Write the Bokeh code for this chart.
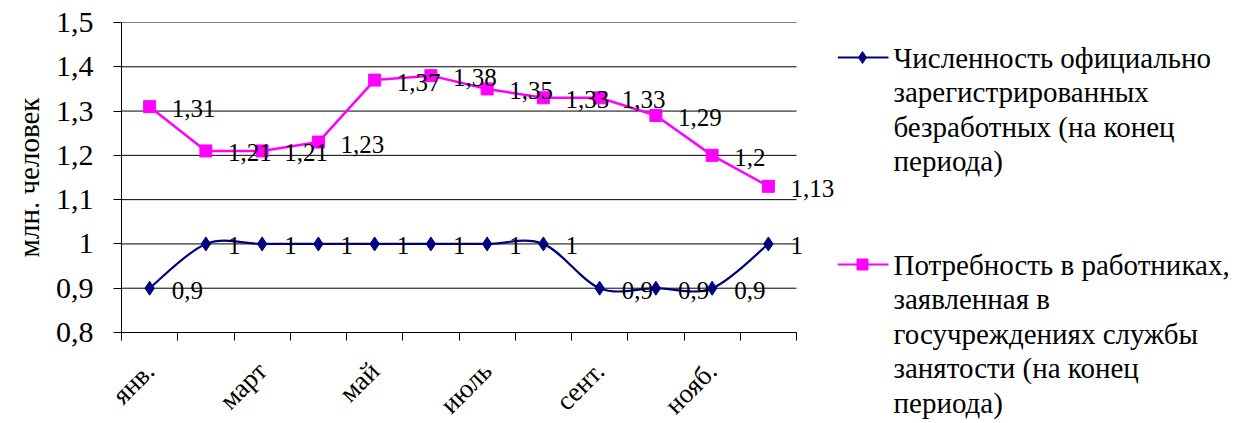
import math
from bokeh.plotting import figure
from bokeh.layouts import row
from bokeh.models import (ColumnDataSource, LabelSet, FixedTicker, CustomJSTickFormatter, Range1d)
from bokeh.core.properties import value
from bokeh.embed import file_html
from bokeh.resources import INLINE

months = ["янв.", "февр.", "март", "апр.", "май", "июнь",
          "июль", "авг.", "сент.", "окт.", "нояб.", "дек."]
unemployed = [0.9, 1, 1, 1, 1, 1, 1, 1, 0.9, 0.9, 0.9, 1]
demand = [1.31, 1.21, 1.21, 1.23, 1.37, 1.38, 1.35, 1.33, 1.33, 1.29, 1.2, 1.13]
y_ticks = [0.8, 0.9, 1.0, 1.1, 1.2, 1.3, 1.4, 1.5]
series_names = [
    ["Численность официально", "зарегистрированных", "безработных (на конец", "периода)"],
    ["Потребность в работниках,", "заявленная в", "госучреждениях службы", "занятости (на конец", "периода)"],
]
y_title = "млн. человек"

FONT = "'Liberation Serif'"
BLUE = "#000080"
PINK = "#FF00FF"

xs = list(range(1, len(months) + 1))

# page geometry (pixels)
FRAME_L, FRAME_R, FRAME_T, FRAME_B = 121, 796, 22, 332
MAIN_W = 837
H = 423
cat_px = (FRAME_R - FRAME_L) / len(months)
x_end = len(months) + 0.5 + (MAIN_W - FRAME_R) / cat_px


def fmt(v):
    return f"{v:g}".replace(".", ",")


p = figure(frame_width=MAIN_W - FRAME_L, frame_height=FRAME_B - FRAME_T,
           x_range=Range1d(0.5, x_end), y_range=Range1d(0.8, 1.5),
           output_backend="svg", toolbar_location=None,
           min_border_left=FRAME_L, min_border_right=0, min_border_top=FRAME_T,
           min_border_bottom=H - FRAME_B)
p.frame_align = False
p.outline_line_color = None
p.background_fill_color = "white"

# axes
p.xaxis.ticker = FixedTicker(ticks=xs[::2], minor_ticks=[x + 0.5 for x in range(0, 13)])
p.xaxis.formatter = CustomJSTickFormatter(args=dict(m=months), code="return m[Math.round(tick)-1];")
p.xaxis.bounds = (0.5, len(months) + 0.5)
p.xaxis.major_tick_out = 0
p.xaxis.major_tick_in = 0
p.xaxis.minor_tick_out = 8
p.xaxis.minor_tick_in = 0
p.xaxis.minor_tick_line_color = "black"
p.xaxis.major_label_orientation = math.pi / 4
p.xaxis.major_label_text_font = FONT
p.xaxis.major_label_text_font_size = "27px"
p.xaxis.major_label_text_color = "black"
p.xaxis.major_label_standoff = 26
p.xaxis.axis_line_color = "black"

p.yaxis.ticker = FixedTicker(ticks=y_ticks)
p.yaxis.formatter = CustomJSTickFormatter(code="return (Math.round(tick*10)/10).toString().replace('.', ',');")
p.yaxis.major_tick_out = 8
p.yaxis.major_tick_in = 0
p.yaxis.minor_tick_out = 0
p.yaxis.minor_tick_in = 0
p.yaxis.major_tick_line_color = "black"
p.yaxis.major_label_text_font = FONT
p.yaxis.major_label_text_font_size = "30px"
p.yaxis.major_label_text_color = "black"
p.yaxis.major_label_standoff = 20
p.yaxis.axis_line_color = "black"
p.yaxis.axis_label = y_title
p.yaxis.axis_label_text_font = FONT
p.yaxis.axis_label_text_font_style = "normal"
p.yaxis.axis_label_text_font_size = "29px"
p.yaxis.axis_label_text_color = "black"
p.yaxis.axis_label_standoff = 8

p.grid.visible = False
# horizontal grid lines limited to the category span
p.segment(x0=[0.5] * len(y_ticks), x1=[len(months) + 0.5] * len(y_ticks), y0=y_ticks, y1=y_ticks,
          line_color="black", line_width=1)

# smooth blue line (Catmull-Rom -> cubic Bezier)
n = len(xs)
x0, y0, x1, y1, cx0, cy0, cx1, cy1 = [], [], [], [], [], [], [], []
for i in range(n - 1):
    im1 = max(i - 1, 0)
    ip2 = min(i + 2, n - 1)
    x0.append(xs[i]); y0.append(unemployed[i])
    x1.append(xs[i + 1]); y1.append(unemployed[i + 1])
    cx0.append(xs[i] + (xs[i + 1] - xs[im1]) / 6)
    cy0.append(unemployed[i] + (unemployed[i + 1] - unemployed[im1]) / 6)
    cx1.append(xs[i + 1] - (xs[ip2] - xs[i]) / 6)
    cy1.append(unemployed[i + 1] - (unemployed[ip2] - unemployed[i]) / 6)
p.bezier(x0=x0, y0=y0, x1=x1, y1=y1, cx0=cx0, cy0=cy0, cx1=cx1, cy1=cy1,
         line_color=BLUE, line_width=2.2)
p.scatter(xs, unemployed, marker="diamond", size=14, fill_color=BLUE, line_color=BLUE)

p.line(xs, demand, line_color=PINK, line_width=2.5)
p.scatter(xs, demand, marker="square", size=12, fill_color=PINK, line_color=PINK)

for vals in (unemployed, demand):
    src = ColumnDataSource(dict(x=xs, y=vals, t=[fmt(v) for v in vals]))
    p.add_layout(LabelSet(x="x", y="y", text="t", source=src, x_offset=22, y_offset=-2,
                          text_font=value(FONT), text_font_size="25px", text_color="black",
                          text_baseline="middle", text_align="left"))

# legend panel (coordinates are page pixels)
LG_W = 1243 - MAIN_W
lg = figure(width=LG_W, height=H, x_range=Range1d(MAIN_W, 1243), y_range=Range1d(H, 0),
            output_backend="svg", toolbar_location=None, min_border=0)
lg.frame_align = False
lg.axis.visible = False
lg.grid.visible = False
lg.outline_line_color = None

item_y = [57, 264]
line_gap = 34.5
styles = [(BLUE, "diamond", 12), (PINK, "square", 11)]
for (col, mk, sz), yy, lines in zip(styles, item_y, series_names):
    lg.line([837, 888], [yy, yy], line_color=col, line_width=2.2)
    lg.scatter([862], [yy], marker=mk, size=sz, fill_color=col, line_color=col)
    lg.text(x=[893] * len(lines), y=[yy + k * line_gap for k in range(len(lines))], text=lines,
            text_font=value(FONT), text_font_size="29px", text_color="black",
            text_baseline="middle", text_align="left")

layout = row(p, lg)
open("out.html", "w").write(file_html(layout, INLINE))
